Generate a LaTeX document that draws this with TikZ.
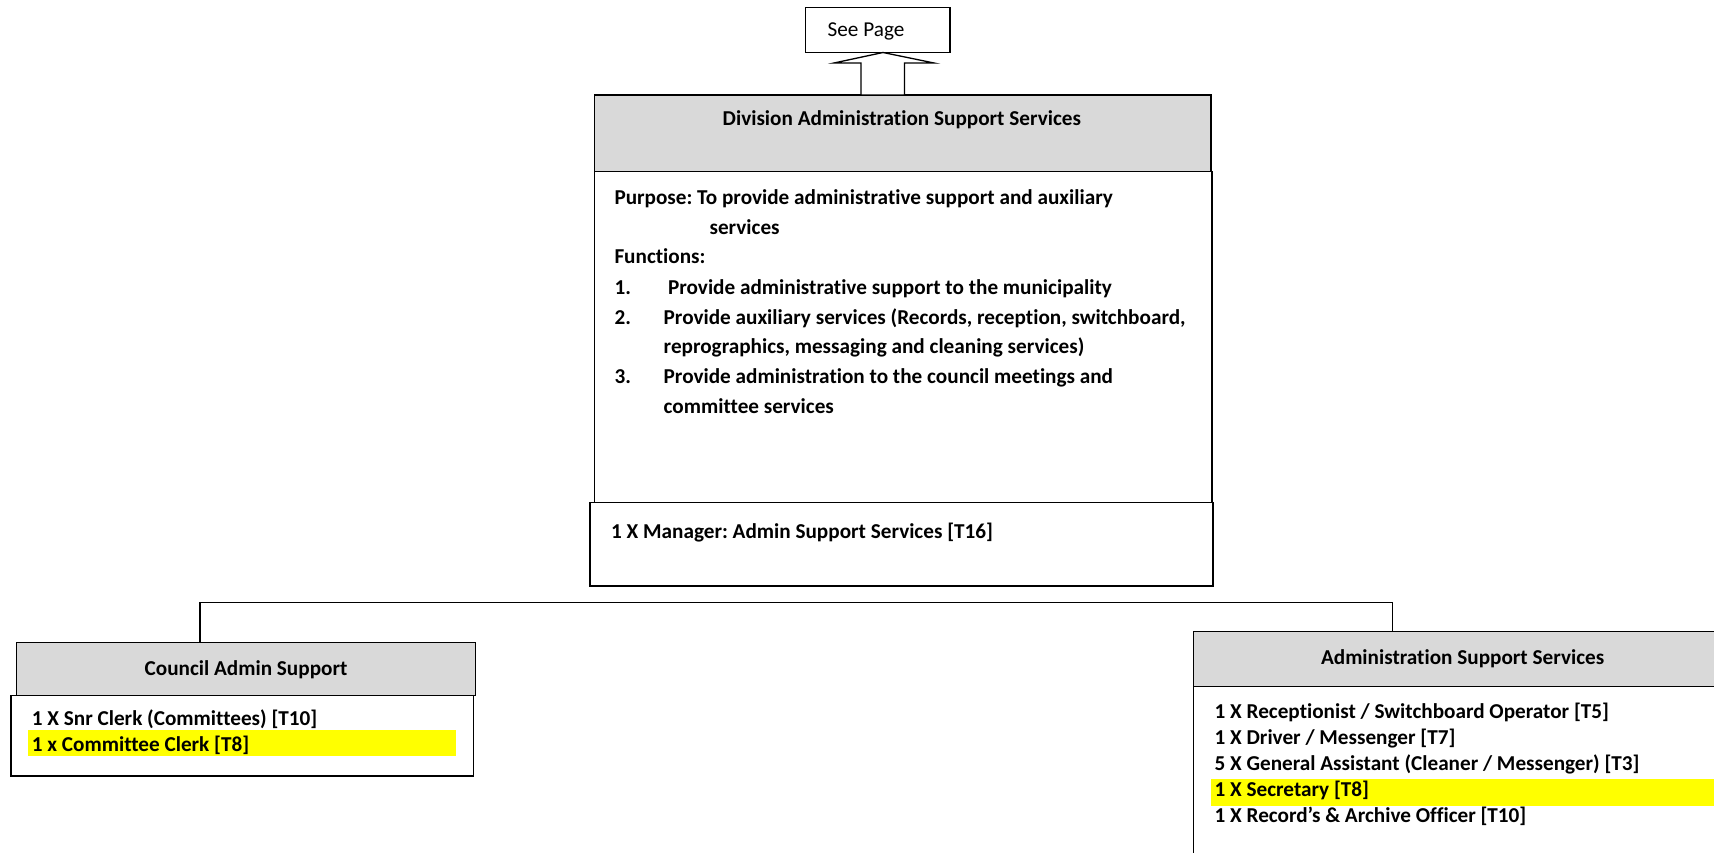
\documentclass[tikz,border=0pt]{standalone}
\usepackage{fontspec}
\setmainfont{Carlito}[Ligatures={NoCommon}]
\usetikzlibrary{calc}
\definecolor{hdr}{RGB}{217,217,217}
\definecolor{hl}{RGB}{255,255,0}
\frenchspacing
\begin{document}
\begin{tikzpicture}[x=1pt,y=-1pt,
  box/.style={draw=black, line width=1.3pt, fill=white, inner sep=0pt, outer sep=0pt, anchor=north west},
  hbox/.style={box, fill=hdr},
  hlbar/.style={fill=hl, draw=none, inner sep=0pt, outer sep=0pt, anchor=north west},
  txt/.style={anchor=base west, inner sep=0pt, font=\fontsize{21.2}{25}\selectfont\bfseries},
  ttl/.style={anchor=base, inner sep=0pt, font=\fontsize{21.2}{25}\selectfont\bfseries},
  plain/.style={anchor=base west, inner sep=0pt, font=\fontsize{21.2}{25}\selectfont},
  link/.style={draw=black, line width=1.3pt}]
\clip (0,0) rectangle (1714,853);
\fill[white] (0,0) rectangle (1714,853);

% top reference box and block arrow
\node[box, minimum width=144.4pt, minimum height=44.8pt] (see) at (805.6,7.7) {};
\node[plain] (seet) at (827.5,37) {See Page};

% division box
\node[box, minimum width=617.4pt, minimum height=331.2pt] (purp) at (594.6,171.6) {};
\node[hbox, minimum width=616.4pt, minimum height=76.6pt] (divhead) at (594.6,95) {};
\node[box, minimum width=623pt, minimum height=83.2pt] (mgr) at (590,502.8) {};

\draw[link, fill=white] (883,52.5) -- (934,63) -- (904.5,63) -- (904.5,95)
  -- (861,95) -- (861,63) -- (834,63) -- cycle;

\node[ttl] (divt) at (901.8,126) {Division Administration Support Services};
\node[txt] (p1) at (614.3,204.8) {Purpose: To provide administrative support and auxiliary};
\node[txt] (p2) at (709.4,234.4) {services};
\node[txt] (p3) at (614.3,263.9) {Functions:};
\node[txt] (n1) at (614.3,294.5) {1.};
\node[txt] (f1) at (667.9,294.5) {Provide administrative support to the municipality};
\node[txt] (n2) at (614.3,324) {2.};
\node[txt] (f2) at (663.5,324) {Provide auxiliary services (Records, reception, switchboard,};
\node[txt] (f2b) at (663.5,353.5) {reprographics, messaging and cleaning services)};
\node[txt] (n3) at (614.3,383) {3.};
\node[txt] (f3) at (663.5,383) {Provide administration to the council meetings and};
\node[txt] (f3b) at (663.5,413.6) {committee services};
\node[txt] (mgrt) at (611,538) {1 X Manager: Admin Support Services [T16]};

% connectors
\coordinate (jl) at (200,602.3);
\coordinate (jr) at (1392.6,602.3);

% council admin support
\node[box, minimum width=462.4pt, minimum height=80.8pt] (cbody) at (10.9,695.2) {};
\node[hbox, minimum width=459.1pt, minimum height=52.5pt] (chead) at (16.4,642.7) {};
\node[hlbar, minimum width=427.4pt, minimum height=26.4pt] (chl) at (28.4,730) {};
\node[ttl] (ct) at (246,675) {Council Admin Support};
\node[txt] (c1) at (31.7,725.2) {1 X Snr Clerk (Committees) [T10]};
\node[txt] (c2) at (31.7,751.4) {1 x Committee Clerk [T8]};

% administration support services
\node[box, minimum width=600pt, minimum height=250pt] (abody) at (1193.7,686.5) {};
\node[hbox, minimum width=600pt, minimum height=54.7pt] (ahead) at (1193.7,631.8) {};
\node[hlbar, minimum width=600pt, minimum height=26.2pt] (ahl) at (1211,779.4) {};
\node[ttl] (at) at (1462.6,664) {Administration Support Services};
\node[txt] (a1) at (1214.4,718.6) {1 X Receptionist / Switchboard Operator [T5]};
\node[txt] (a2) at (1214.4,744.8) {1 X Driver / Messenger [T7]};
\node[txt] (a3) at (1214.4,770) {5 X General Assistant (Cleaner / Messenger) [T3]};
\node[txt] (a4) at (1214.4,796.2) {1 X Secretary [T8]};
\node[txt] (a5) at (1214.4,822.5) {1 X Record’s \& Archive Officer [T10]};

\draw[link] (chead.north -| jl) -- (jl) -- (jr) -- (ahead.north -| jr);
\end{tikzpicture}
\end{document}
